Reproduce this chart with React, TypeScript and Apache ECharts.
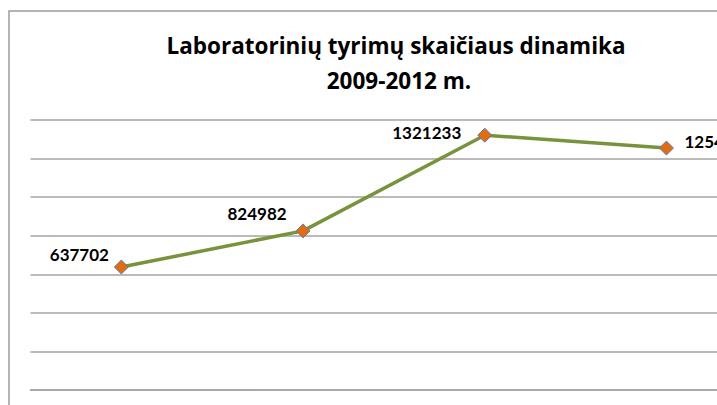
import React, { useEffect, useRef } from "react";
import * as echarts from "echarts";

const categories = ["2009", "2010", "2011", "2012"];
const values = [637702, 824982, 1321233, 1254410];
const titleLines = ["Laboratorinių tyrimų skaičiaus dinamika", "2009-2012 m."];
const yMin = 0;
const yMax = 1400000;
const yInterval = 200000;

// label placement (style only): [offsetX, offsetY, align]
const labelPlacement: [number, number, string][] = [
  [-42, -13, "center"],
  [-46, -17, "center"],
  [-58, -3, "center"],
  [18, -7, "left"],
];

const CHART_W = 760;
const CHART_H = 405;

export default function App() {
  const ref = useRef<HTMLDivElement>(null);
  useEffect(() => {
    if (!ref.current) return;
    const chart = echarts.init(ref.current, null, { renderer: "svg" });
    const gridColor = "#a3a3a3";
    chart.setOption({
      animation: false,
      backgroundColor: "#ffffff",
      graphic: [
        {
          type: "polyline",
          shape: { points: [[9, 405], [9, 11], [CHART_W, 11]] },
          style: { stroke: "#9c9c9c", lineWidth: 1.5, fill: null },
          silent: true,
        },
        {
          type: "text",
          x: 396,
          y: 45,
          style: {
            text: titleLines[0],
            font: "bold 22.5px 'Open Sans'",
            fill: "#000",
            align: "center",
            verticalAlign: "middle",
          },
        },
        {
          type: "text",
          x: 399,
          y: 80,
          style: {
            text: titleLines[1],
            font: "bold 22.5px 'Open Sans'",
            fill: "#000",
            align: "center",
            verticalAlign: "middle",
          },
        },
      ],
      grid: { left: 30.5, top: 120, right: CHART_W - 757.3, height: 270 },
      xAxis: {
        type: "category",
        data: categories,
        boundaryGap: true,
        axisLine: { show: true, lineStyle: { color: gridColor, width: 1.5 } },
        axisTick: { show: false },
        axisLabel: { show: false },
      },
      yAxis: {
        type: "value",
        min: yMin,
        max: yMax,
        interval: yInterval,
        axisLine: { show: false },
        axisTick: { show: false },
        axisLabel: { show: false },
        splitLine: { show: true, lineStyle: { color: gridColor, width: 1.5 } },
      },
      series: [
        {
          type: "line",
          data: values.map((v, i) => ({
            value: v,
            label: {
              show: true,
              position: "inside",
              offset: [labelPlacement[i][0], labelPlacement[i][1]],
              align: labelPlacement[i][2],
              verticalAlign: "middle",
            },
          })),
          lineStyle: { color: "#77933C", width: 3.5 },
          symbol: "diamond",
          symbolSize: 14,
          itemStyle: { color: "#E46C0A", borderColor: "#4F81BD", borderWidth: 1 },
          label: {
            show: true,
            color: "#000",
            fontFamily: "Lato",
            fontWeight: "bold",
            fontSize: 17,
          },
          z: 3,
        },
      ],
    });
    return () => chart.dispose();
  }, []);
  return (
    <div
      style={{
        position: "fixed",
        left: 0,
        top: 0,
        width: 717,
        height: CHART_H,
        overflow: "hidden",
        background: "#fff",
      }}
    >
      <div ref={ref} style={{ width: CHART_W, height: CHART_H }} />
    </div>
  );
}
